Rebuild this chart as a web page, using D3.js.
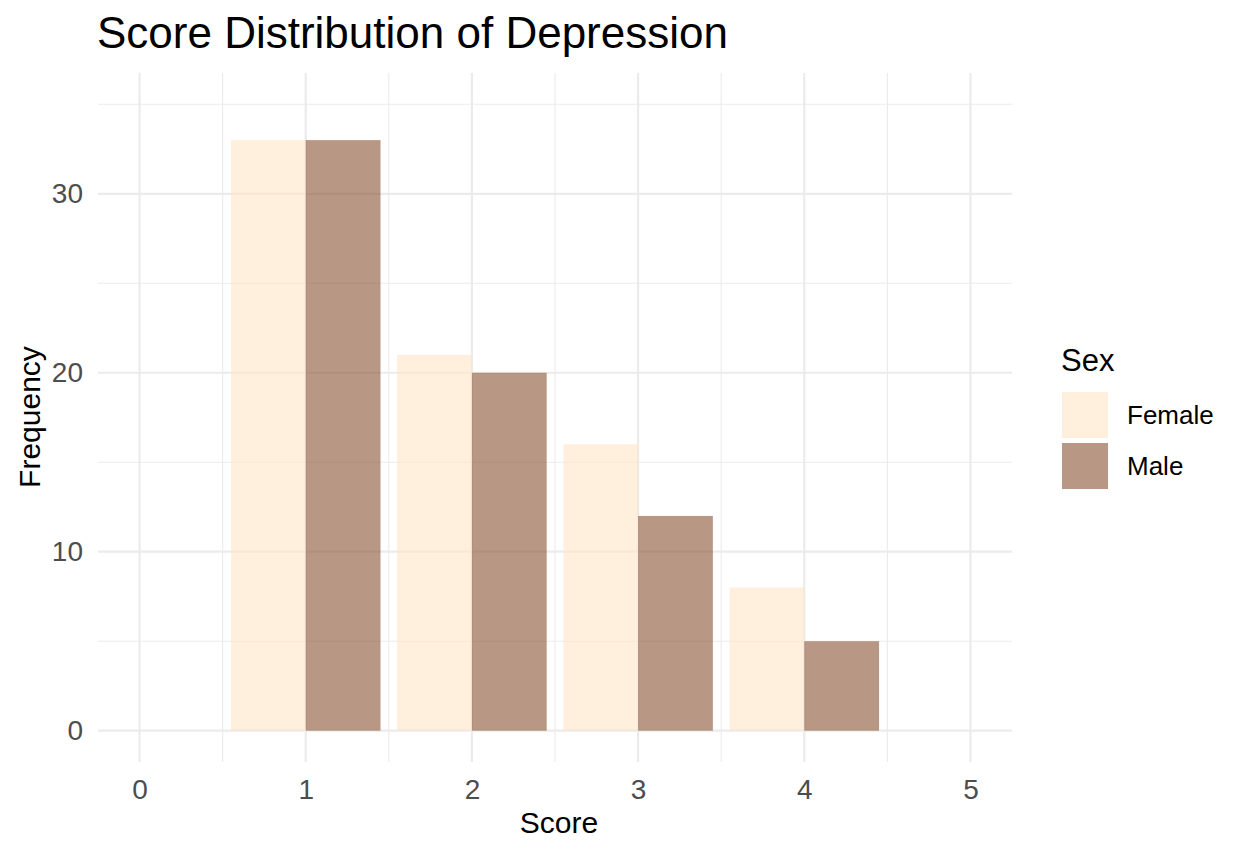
<!DOCTYPE html>
<html><head><meta charset="utf-8">
<script src="https://cdn.jsdelivr.net/npm/d3@7"></script>
<style>body{margin:0;background:#fff;}svg{display:block;font-family:"Liberation Sans",Arial,sans-serif;}</style>
</head><body>
<script>
const scores = [1, 2, 3, 4];
const sexes = ["Female", "Male"];
const femaleCounts = [33, 21, 16, 8];
const maleCounts = [33, 20, 12, 5];
const xTicks = [0, 1, 2, 3, 4, 5];
const yTicks = [0, 10, 20, 30];
const colors = {Female: "#FFE4C4", Male: "#8A5133"};

const W = 1245, H = 855;
const svg = d3.select("body").append("svg").attr("width", W).attr("height", H);
const x = d3.scaleLinear().domain([-0.25, 5.25]).range([98, 1012]);
const y = d3.scaleLinear().domain([-1.75, 36.75]).range([762, 73]);

const grid = svg.append("g");
[0.5,1.5,2.5,3.5,4.5].forEach(v => grid.append("line").attr("x1", x(v)).attr("x2", x(v)).attr("y1", 73).attr("y2", 762).attr("stroke", "#EBEBEB").attr("stroke-width", 1.1));
[5,15,25,35].forEach(v => grid.append("line").attr("y1", y(v)).attr("y2", y(v)).attr("x1", 98).attr("x2", 1012).attr("stroke", "#EBEBEB").attr("stroke-width", 1.1));
xTicks.forEach(v => grid.append("line").attr("x1", x(v)).attr("x2", x(v)).attr("y1", 73).attr("y2", 762).attr("stroke", "#EBEBEB").attr("stroke-width", 2.2));
yTicks.forEach(v => grid.append("line").attr("y1", y(v)).attr("y2", y(v)).attr("x1", 98).attr("x2", 1012).attr("stroke", "#EBEBEB").attr("stroke-width", 2.2));

const data = [];
scores.forEach((s, i) => {
  data.push({score: s, sex: "Female", n: femaleCounts[i], off: -0.45});
  data.push({score: s, sex: "Male", n: maleCounts[i], off: 0});
});
svg.append("g").selectAll("rect").data(data).join("rect")
  .attr("x", d => x(d.score + d.off))
  .attr("width", d => x(d.score + d.off + 0.45) - x(d.score + d.off))
  .attr("y", d => y(d.n))
  .attr("height", d => y(0) - y(d.n))
  .attr("fill", d => colors[d.sex]).attr("fill-opacity", 0.6);

const xAxis = svg.append("g").attr("transform", "translate(0,762)")
  .call(d3.axisBottom(x).tickValues(xTicks).tickSize(0).tickPadding(17).tickFormat(d3.format("d")));
xAxis.select(".domain").remove();
xAxis.attr("font-size", 28).attr("font-family", "Liberation Sans, Arial, sans-serif");
xAxis.selectAll("text").attr("fill", "#4D4D4D");

const yAxis = svg.append("g").attr("transform", "translate(98,0)")
  .call(d3.axisLeft(y).tickValues(yTicks).tickSize(0).tickPadding(15).tickFormat(d3.format("d")));
yAxis.select(".domain").remove();
yAxis.attr("font-size", 28).attr("font-family", "Liberation Sans, Arial, sans-serif");
yAxis.selectAll("text").attr("fill", "#4D4D4D");

svg.append("text").attr("x", 97).attr("y", 48).attr("font-size", 44).attr("fill", "#000").text("Score Distribution of Depression");
svg.append("text").attr("x", 559).attr("y", 833).attr("text-anchor", "middle").attr("font-size", 30).text("Score");
svg.append("text").attr("transform", "translate(40,417) rotate(-90)").attr("text-anchor", "middle").attr("font-size", 30).text("Frequency");

svg.append("text").attr("x", 1061).attr("y", 371).attr("font-size", 31).text("Sex");
sexes.forEach((s, i) => {
  const ky = 392 + i * 51;
  svg.append("rect").attr("x", 1062).attr("y", ky).attr("width", 46).attr("height", 46).attr("fill", colors[s]).attr("fill-opacity", 0.6);
  svg.append("text").attr("x", 1127).attr("y", ky + 23).attr("dy", "0.35em").attr("font-size", 26).text(s);
});
</script>
</body></html>
